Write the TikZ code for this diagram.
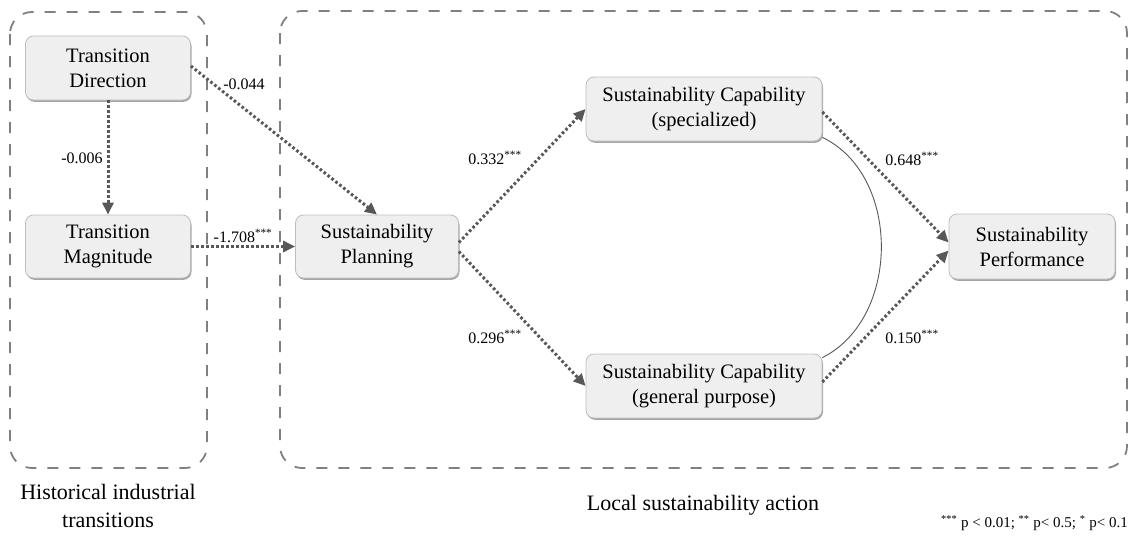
\documentclass[tikz,border=0pt]{standalone}
\usepackage{fontspec}
\setmainfont{Liberation Serif}
\usetikzlibrary{arrows.meta,shadows}
\definecolor{boxfill}{HTML}{EFEFEF}
\definecolor{boxline}{HTML}{BDBDBD}
\definecolor{arrowgray}{HTML}{585858}
\definecolor{groupgray}{HTML}{808080}
\begin{document}
\begin{tikzpicture}[x=1pt,y=-1pt,
  var/.style={draw=boxline, line width=0.8pt, fill=boxfill, rounded corners=8pt,
    align=center, inner sep=0pt, font=\fontsize{20.5}{25}\selectfont,
    drop shadow={shadow xshift=1pt, shadow yshift=-1.8pt, fill=black, opacity=0.35}},
  path/.style={draw=arrowgray, line width=3pt, dash pattern=on 2.6pt off 2.4pt,
    -{Triangle[length=12pt,width=11pt]}},
  coef/.style={font=\fontsize{16}{18}\selectfont, inner sep=1pt},
  group/.style={draw=groupgray, line width=1.8pt, dash pattern=on 11pt off 11pt, rounded corners=22pt},
  grouplabel/.style={align=center, font=\fontsize{22}{28}\selectfont},
  corr/.style={draw=arrowgray, line width=0.9pt}
]
\useasboundingbox (0,0) rectangle (1129,538);

% dashed group frames
\draw[group] (10,12) rectangle (207,468);
\draw[group] (280,11) rectangle (1127,468);

% variables
\node[var, minimum width=165pt, minimum height=64pt] (td) at (108,68) {Transition\\Direction};
\node[var, minimum width=165pt, minimum height=63pt] (tm) at (108,246.5) {Transition\\Magnitude};
\node[var, minimum width=163pt, minimum height=63pt] (sp) at (377,246.5) {Sustainability\\Planning};
\node[var, minimum width=236pt, minimum height=64pt] (sspec) at (704,109) {Sustainability Capability\\(specialized)};
\node[var, minimum width=236pt, minimum height=64pt] (sgen) at (704,386) {Sustainability Capability\\(general purpose)};
\node[var, minimum width=166pt, minimum height=65pt] (perf) at (1032,246.5) {Sustainability\\Performance};

% structural paths
\draw[path] (td.south) -- (tm.north);
\draw[path] ([yshift=2pt]td.east) -- (sp.north);
\draw[path] (tm.east) -- (sp.west);
\draw[path] ([yshift=4pt]sp.east) -- (sspec.west);
\draw[path] ([yshift=-5pt]sp.east) -- (sgen.west);
\draw[path] ([yshift=-3pt]sspec.east) -- ([yshift=4pt]perf.west);
\draw[path] ([yshift=4pt]sgen.east) -- ([yshift=-4pt]perf.west);

% correlation between the two capabilities
\draw[corr] ([yshift=4pt]sspec.south east) .. controls (901,175) and (901,318) .. ([yshift=-4pt]sgen.north east);

% coefficients
\node[coef] (c1) at (82,158) {-0.006};
\node[coef] (c2) at (244,84) {-0.044};
\node[coef] (c3) at (243,236) {-1.708\textsuperscript{***}};
\node[coef] (c4) at (495,158) {0.332\textsuperscript{***}};
\node[coef] (c5) at (495,337) {0.296\textsuperscript{***}};
\node[coef] (c6) at (912,159) {0.648\textsuperscript{***}};
\node[coef] (c7) at (912,337) {0.150\textsuperscript{***}};

% group labels and note
\node[grouplabel] (g1) at (108,506) {Historical industrial\\transitions};
\node[grouplabel] (g2) at (703,505) {Local sustainability action};
\node[anchor=east, font=\fontsize{15}{17}\selectfont, inner sep=0pt] (note) at (1128,523)
  {\textsuperscript{***} p < 0.01; \textsuperscript{**} p< 0.5; \textsuperscript{*} p< 0.1};
\end{tikzpicture}
\end{document}
